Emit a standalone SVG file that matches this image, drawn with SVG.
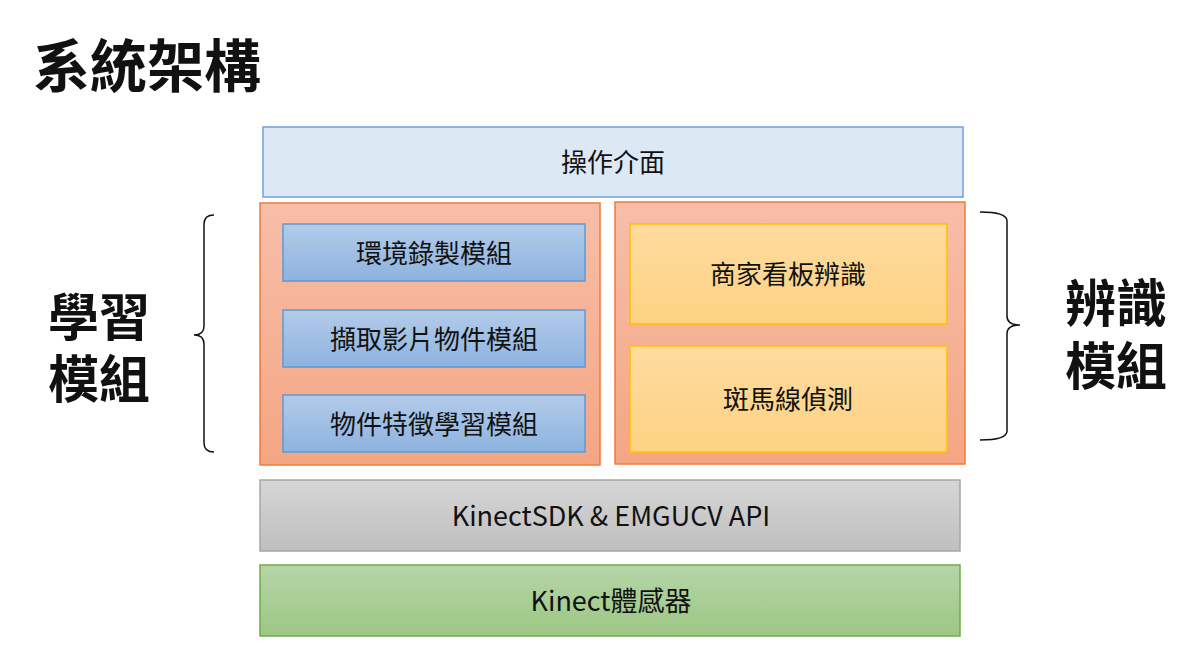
<svg xmlns="http://www.w3.org/2000/svg" width="1200" height="662" viewBox="0 0 1200 662">
<style>
text{font-family:"Noto Sans CJK TC","Noto Sans",sans-serif;fill:#111}
.lbl{font-size:26px;text-anchor:middle}
.lbl2{font-size:27px;text-anchor:middle}
.big{font-size:51px;font-weight:bold}
.brace{fill:none;stroke:#111;stroke-width:1.5}
</style>
<defs>
<linearGradient id="gOr" x1="0" y1="0" x2="0" y2="1"><stop offset="0" stop-color="#f7bea8"/><stop offset="1" stop-color="#f4a683"/></linearGradient>
<linearGradient id="gBl" x1="0" y1="0" x2="0" y2="1"><stop offset="0" stop-color="#b3cbe9"/><stop offset="1" stop-color="#8db3df"/></linearGradient>
<linearGradient id="gYe" x1="0" y1="0" x2="0" y2="1"><stop offset="0" stop-color="#fedb9f"/><stop offset="1" stop-color="#fdd282"/></linearGradient>
<linearGradient id="gGr" x1="0" y1="0" x2="0" y2="1"><stop offset="0" stop-color="#d6d6d6"/><stop offset="1" stop-color="#bfbfbf"/></linearGradient>
<linearGradient id="gGn" x1="0" y1="0" x2="0" y2="1"><stop offset="0" stop-color="#b5d5a7"/><stop offset="1" stop-color="#9cc784"/></linearGradient>
</defs>
<rect width="1200" height="662" fill="#fff"/>
<text id="title" x="33" y="87" style="font-size:57px;font-weight:bold">系統架構</text>

<g id="ui"><rect x="263" y="127" width="700" height="70" fill="#dde8f5" stroke="#6fa1da" stroke-width="1.5"/><text class="lbl" x="613" y="172">操作介面</text></g>

<g id="learn"><rect x="260" y="203" width="340" height="262" fill="url(#gOr)" stroke="#f07b3a" stroke-width="1.5"/></g>
<g id="m1"><rect x="283" y="224" width="302" height="57" fill="url(#gBl)" stroke="#5b9bd5" stroke-width="1.5"/><text class="lbl" x="434" y="263">環境錄製模組</text></g>
<g id="m2"><rect x="283" y="310" width="302" height="57" fill="url(#gBl)" stroke="#5b9bd5" stroke-width="1.5"/><text class="lbl" x="434" y="349">擷取影片物件模組</text></g>
<g id="m3"><rect x="283" y="395" width="302" height="57" fill="url(#gBl)" stroke="#5b9bd5" stroke-width="1.5"/><text class="lbl" x="434" y="434">物件特徵學習模組</text></g>

<g id="recog"><rect x="615" y="202" width="350" height="262" fill="url(#gOr)" stroke="#f07b3a" stroke-width="1.5"/></g>
<g id="r1"><rect x="630" y="224" width="317" height="100" fill="url(#gYe)" stroke="#ffc000" stroke-width="1.5"/><text class="lbl" x="788" y="284">商家看板辨識</text></g>
<g id="r2"><rect x="630" y="346" width="317" height="106" fill="url(#gYe)" stroke="#ffc000" stroke-width="1.5"/><text class="lbl" x="788" y="409">斑馬線偵測</text></g>

<g id="api"><rect x="260" y="480" width="700" height="71" fill="url(#gGr)" stroke="#a6a6a6" stroke-width="1.5"/><text class="lbl2" x="611" y="526">KinectSDK &amp; EMGUCV API</text></g>
<g id="kinect"><rect x="260" y="565" width="700" height="71" fill="url(#gGn)" stroke="#70ad47" stroke-width="1.5"/><text class="lbl2" x="611" y="611">Kinect體感器</text></g>

<g id="labelL"><text class="big"><tspan x="48" y="336">學習</tspan><tspan x="48" y="398">模組</tspan></text></g>
<g id="labelR"><text class="big"><tspan x="1065" y="322">辨識</tspan><tspan x="1065" y="385">模組</tspan></text></g>

<g id="connectors">
<path class="brace" d="M214,215 Q204,215 204,224 L204,326 Q204,335 194,335 Q204,335 204,344 L204,443 Q204,452 214,452"/>
<path class="brace" d="M980,212 Q1007,212 1007,221 L1007,316 Q1007,325 1020,325 Q1007,325 1007,334 L1007,431 Q1007,440 980,440"/>
</g>
</svg>
